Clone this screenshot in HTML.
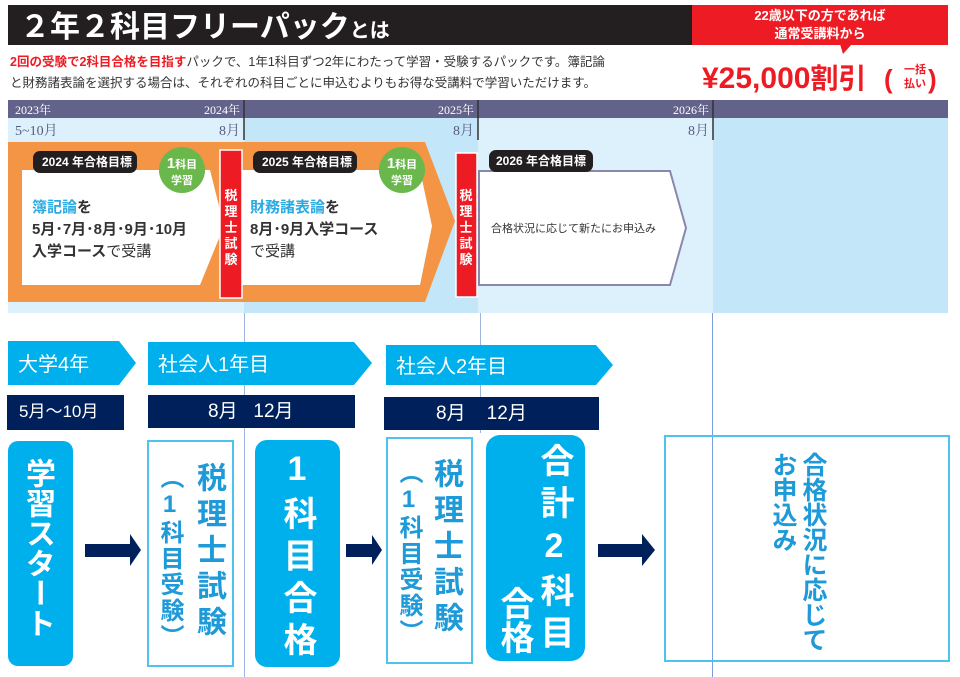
<!DOCTYPE html>
<html><head><meta charset="utf-8">
<style>
*{margin:0;padding:0;box-sizing:border-box}
body{width:960px;height:677px;background:#fff;position:relative;overflow:hidden;font-family:"Liberation Sans","Noto Sans CJK JP",sans-serif}
.a{position:absolute}
.v{writing-mode:vertical-rl;text-orientation:upright;font-weight:bold;line-height:1}
.nav{background:#00205b;color:#fff;font-size:19px;line-height:34px}
</style></head><body>
<svg class="a" style="left:0;top:0" width="960" height="320" xmlns="http://www.w3.org/2000/svg" font-family="Liberation Sans, Noto Sans CJK JP, sans-serif">
<rect x="8" y="5" width="684" height="40" fill="#231f20"/>
<text x="20" y="37" font-size="30" font-weight="bold" fill="#fff">２年２科目フリーパック<tspan font-size="20">とは</tspan></text>
<rect x="692" y="5" width="256" height="40" fill="#ed1c24"/>
<polygon points="840,44 852,44 843,54" fill="#ed1c24"/>
<text x="820" y="20" font-size="13" font-weight="bold" fill="#fff" text-anchor="middle">22歳以下の方であれば</text>
<text x="820" y="38" font-size="13" font-weight="bold" fill="#fff" text-anchor="middle">通常受講料から</text>
<text x="10" y="66" font-size="12.5" fill="#333"><tspan fill="#ed1c24" font-weight="bold">2回の受験で2科目合格を目指す</tspan>パックで、1年1科目ずつ2年にわたって学習・受験するパックです。簿記論</text>
<text x="10" y="87" font-size="12.5" fill="#333">と財務諸表論を選択する場合は、それぞれの科目ごとに申込むよりもお得な受講料で学習いただけます。</text>
<text x="702" y="88" font-size="30" font-weight="bold" fill="#ed1c24">¥25,000<tspan font-size="28">割引</tspan></text>
<text x="884" y="88" font-size="26" font-weight="bold" fill="#ed1c24">(</text>
<text x="904" y="73" font-size="11" font-weight="bold" fill="#ed1c24">一括</text>
<text x="904" y="87" font-size="11" font-weight="bold" fill="#ed1c24">払い</text>
<text x="928" y="88" font-size="26" font-weight="bold" fill="#ed1c24">)</text>
<rect x="8" y="118" width="236" height="195" fill="#dcf1fb"/>
<rect x="244" y="118" width="234" height="195" fill="#c3e7f8"/>
<rect x="478" y="118" width="235" height="195" fill="#dcf1fb"/>
<rect x="713" y="118" width="235" height="195" fill="#c3e7f8"/>
<rect x="8" y="100" width="940" height="18" fill="#63628a"/>
<g font-family="Liberation Serif, Noto Serif CJK SC, serif" fill="#fff" font-size="12">
<text x="15" y="114">2023年</text><text x="240" y="114" text-anchor="end">2024年</text>
<text x="474" y="114" text-anchor="end">2025年</text><text x="709" y="114" text-anchor="end">2026年</text></g>
<g font-family="Liberation Serif, Noto Serif CJK SC, serif" fill="#5a5a80" font-size="14">
<text x="15" y="135">5~10月</text><text x="240" y="135" text-anchor="end">8月</text>
<text x="474" y="135" text-anchor="end">8月</text><text x="709" y="135" text-anchor="end">8月</text></g>
<g stroke="#333" stroke-width="1.5"><line x1="244" y1="100" x2="244" y2="140"/><line x1="478" y1="100" x2="478" y2="140"/><line x1="713" y1="100" x2="713" y2="140"/></g>
<polygon points="8,142 425,142 455,221 425,302 8,302" fill="#f39545"/>
<polygon points="22,170 210,170 224,226 200,285 22,285" fill="#fff"/>
<polygon points="242,170 420,170 432,226 420,285 242,285" fill="#fff"/>
<rect x="220" y="150" width="22" height="148" fill="#ed1c24" stroke="#fff" stroke-width="1.5"/>
<rect x="456" y="153" width="21" height="144" fill="#ed1c24" stroke="#fff" stroke-width="1.5"/>
<polygon points="479,171 670,171 686,228 670,285 479,285" fill="#fff" stroke="#8a87ad" stroke-width="2"/>
<rect x="33" y="151" width="104" height="22" rx="7" fill="#231f20"/>
<rect x="253" y="151" width="104" height="22" rx="7" fill="#231f20"/>
<rect x="489" y="150" width="104" height="22" rx="7" fill="#231f20"/>
<g fill="#fff" font-size="12" font-weight="bold"><text x="42" y="166">2024 年合格目標</text><text x="262" y="166">2025 年合格目標</text><text x="496" y="165">2026 年合格目標</text></g>
<circle cx="182" cy="170" r="23" fill="#6ab74c"/><circle cx="402" cy="170" r="23" fill="#6ab74c"/>
<g fill="#fff" font-size="11" font-weight="bold" text-anchor="middle"><text x="182" y="168"><tspan font-size="15">1</tspan>科目</text><text x="182" y="184">学習</text>
<text x="402" y="168"><tspan font-size="15">1</tspan>科目</text><text x="402" y="184">学習</text></g>
<g fill="#fff" font-size="13" font-weight="bold" text-anchor="middle">
<text x="231" y="200">税</text><text x="231" y="216">理</text><text x="231" y="232">士</text><text x="231" y="248">試</text><text x="231" y="264">験</text>
<text x="466" y="200">税</text><text x="466" y="216">理</text><text x="466" y="232">士</text><text x="466" y="248">試</text><text x="466" y="264">験</text></g>
<g font-size="15" font-weight="bold" fill="#333">
<text x="32" y="212"><tspan fill="#29abe2">簿記論</tspan>を</text>
<text x="32" y="234">5月･7月･8月･9月･10月</text>
<text x="32" y="256">入学コース<tspan font-weight="normal">で受講</tspan></text>
<text x="250" y="212"><tspan fill="#29abe2">財務諸表論</tspan>を</text>
<text x="250" y="234">8月･9月入学コース</text>
<text x="250" y="256" font-weight="normal">で受講</text></g>
<text x="491" y="232" font-size="11" fill="#333">合格状況に応じて新たにお申込み</text>
</svg>
<div class="a" style="left:244px;top:313px;width:1px;height:364px;background:#9fb4de"></div>
<div class="a" style="left:480px;top:313px;width:1px;height:120px;background:#9fb4de"></div>
<div class="a" style="left:712px;top:313px;width:1px;height:364px;background:#7c9ce0"></div>
<svg class="a" style="left:0;top:335px" width="620" height="60">
<polygon points="8,6 119,6 136,28 119,50 8,50" fill="#00b0ec"/>
<polygon points="148,7 354,7 372,28 354,50 148,50" fill="#00b0ec"/>
<polygon points="386,10 596,10 613,30 596,50 386,50" fill="#00b0ec"/>
<g fill="#fff" font-size="20" font-family="Liberation Sans, Noto Sans CJK JP, sans-serif"><text x="18" y="36">大学4年</text><text x="158" y="36">社会人1年目</text><text x="396" y="38">社会人2年目</text></g>
</svg>
<div class="a nav" style="left:7px;top:395px;width:117px;height:35px;padding-left:12px;font-size:17px">5月～10月</div>
<div class="a nav" style="left:148px;top:395px;width:207px;height:33px;padding-left:60px">8月&nbsp;&nbsp;&nbsp;12月</div>
<div class="a nav" style="left:384px;top:397px;width:215px;height:33px;padding-left:52px">8月&nbsp;&nbsp;&nbsp;&nbsp;12月</div>

<div class="a" style="left:8px;top:441px;width:65px;height:225px;background:#00b0ec;border-radius:10px"></div>
<div class="a v" style="left:22px;top:458px;font-size:30px;color:#fff">学習スタート</div>
<div class="a" style="left:255px;top:440px;width:85px;height:227px;background:#00b0ec;border-radius:12px"></div>
<div class="a v" style="left:280px;top:450px;font-size:34px;color:#fff;line-height:1;letter-spacing:8px">1科目合格</div>
<div class="a" style="left:486px;top:435px;width:99px;height:226px;background:#00b0ec;border-radius:14px"></div>
<div class="a v" style="left:537px;top:443px;font-size:34px;color:#fff;letter-spacing:8px">合計2科目</div>
<div class="a v" style="left:497px;top:586px;font-size:34px;color:#fff">合格</div>

<div class="a" style="left:147px;top:440px;width:87px;height:227px;border:2px solid #4fc3f0"></div>
<div class="a v" style="left:193px;top:462px;font-size:30px;color:#1f9ad8;letter-spacing:6px">税理士試験</div>
<div class="a v" style="left:157px;top:465px;font-size:24px;color:#1f9ad8;letter-spacing:2px">（1科目受験）</div>
<div class="a" style="left:386px;top:437px;width:87px;height:227px;border:2px solid #4fc3f0"></div>
<div class="a v" style="left:430px;top:458px;font-size:30px;color:#1f9ad8;letter-spacing:6px">税理士試験</div>
<div class="a v" style="left:396px;top:460px;font-size:24px;color:#1f9ad8;letter-spacing:2px">（1科目受験）</div>
<div class="a" style="left:664px;top:435px;width:286px;height:227px;border:2px solid #4fc3f0"></div>
<div class="a v" style="left:800px;top:452px;font-size:25px;color:#1f9ad8">合格状況に応じて</div>
<div class="a v" style="left:770px;top:452px;font-size:25px;color:#1f9ad8">お申込み</div>

<svg class="a" style="left:0;top:520px" width="700" height="60">
<g fill="#00205b">
<polygon points="85,24 130,24 130,14 141,30 130,46 130,37 85,37"/>
<polygon points="346,24 372,24 372,15 382,30 372,45 372,37 346,37"/>
<polygon points="598,24 642,24 642,14 655,30 642,46 642,37 598,37"/>
</g></svg>
</body></html>
